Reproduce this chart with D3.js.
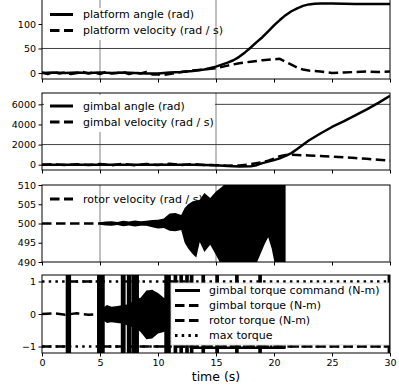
<!DOCTYPE html>
<html><head><meta charset="utf-8">
<script src="https://cdn.jsdelivr.net/npm/d3@7"></script>
<style>
body{margin:0;background:#fff}
svg{display:block}
text{font-family:"DejaVu Sans",sans-serif;fill:#000}
</style>
</head><body>
<svg id="c" width="399" height="389"></svg>
<script>
// ---------------- data ----------------
const timeTicks = [0, 5, 10, 15, 20, 25, 30];
const platTicks = [0, 50, 100];
const gimbalTicks = [0, 2000, 4000, 6000];
const rotorTicks = [490, 495, 500, 505, 510];
const torqueTicks = [-1, 0, 1];

// panel 1: platform
const platAngleT = [0,1,2,3,4,5,6,7,8,9,10,11,12,13,14,15,16,16.5,17,17.5,18,18.5,19,19.5,20,20.5,21,21.5,22,22.5,23,23.5,24,25,26,27,28,29,30];
const platAngle  = [0,1,0,1,0,1,0,1,0,-1,-1,1,2,4,7,13,21,26,33,42,52,63,73,85,97,108,118,126,132,137,140,141.5,142,142,141.5,141,141,141,141];
const platVelT = [0,0.5,1,1.5,2,2.5,3,3.5,4,4.5,5,5.5,6,6.5,7,7.5,8,8.5,9,9.5,10,10.5,11,12,13,14,15,16,17,18,19,20,20.5,21,21.5,22,22.5,23,24,25,26,27,28,29,30];
const platVel  = [1,-2,2,-1,1,-2,0,2,-1,1,-2,2,-1,0,2,-2,1,-1,2,-3,-3,-4,-2,2,5,7,9.5,15,20,23,26,28,29,23,17,11,7,5,3,0,1,2,3,2,3];

// panel 2: gimbal
const gimbalAngleT = [0,2,4,6,8,10,12,13,14,15,16,17,18,18.5,19,19.5,20,20.5,21,21.5,22,23,24,25,26,27,28,29,30];
const gimbalAngle  = [0,0,0,0,0,0,0,-20,-40,-60,-120,-180,-150,-50,150,300,450,630,870,1150,1550,2400,3100,3750,4300,4900,5500,6150,6840];
const gimbalVelT = [0,1,2,3,4,5,6,7,8,9,10,11,12,13,14,15,16,17,18,19,19.5,20,20.5,21,21.5,22,23,24,25,26,27,28,29,30];
const gimbalVel  = [0,40,-30,50,-40,60,-50,80,-60,70,-40,90,-30,60,-30,-60,-100,-80,50,250,400,600,850,960,980,960,920,870,810,740,660,580,490,400];

// panel 3: rotor velocity
const rotorVelT = [0,1,2,3,4,5,6,7,8,9,10,11];
const rotorVel  = [500,500,500,500,500,500,500.1,499.9,500.1,499.9,500,500];
const rotorEnvT  = [5,5.5,6,6.5,7,7.5,8,8.5,9,9.5,10,10.5,11,11.5,12,12.3,12.6,13,13.3,13.6,14,14.5,15,15.5,16,17,18,18.4,18.8,19.2,19.5,19.8,20.1,20.5,21];
const rotorEnvHi = [500.3,500.5,500.6,500.4,500.7,500.5,500.8,500.6,500.7,500.9,501.0,501.3,502.6,502.7,502.2,504,505,505.8,506,506.2,507.9,506.6,508.3,509.5,511,511,511,511,511,511,511,511,511,511,511];
const rotorEnvLo = [499.7,499.5,499.4,499.6,499.3,499.5,499.2,499.4,499.4,499.0,498.7,498.8,498.1,498.0,498.3,495,493.5,492,491.2,495.2,492.6,494.5,491.8,489,489,489,489,489,491.8,494.7,496.4,493.5,489,489,489];

// panel 4: torques
const cmdBarStart = [2.15,4.85,6.9,7.42,7.86,8.2,10.65,11.45,11.95,12.45,12.85,13.85,15.05,16.75,18.75,29.9];
const cmdBarEnd   = [2.4,5.3,7.1,7.62,8.05,8.25,11.0,11.55,12.05,12.55,12.95,13.95,15.15,16.85,18.85,30];
const cmdPeak = 3;
const cmdHoldT = [12.9, 21];
const cmdHold  = [-1.04, -1.04];
const gtStart = [0, 2.3, 5.1, 7.0, 7.55, 8.0, 8.4, 10.85, 11.5];
const gtEnd   = [2.3, 5.1, 7.0, 7.55, 8.0, 8.4, 10.85, 11.5, 30];
const gtValue = [-1, 1, -1, 1, -1, 1, -1, 1, -1];
const rotorTorqueT = [0,1,2,3,4,5,6,7,8,9,10,11,11.5];
const rotorTorque  = [0,0.02,-0.02,0.02,-0.02,0,0,0,0,0,0,0,0];
const rtEnvT  = [5,5.3,5.6,6,6.5,7,7.5,8,8.5,9,9.5,10,10.5,11,11.5];
const rtEnvHi = [0.05,0.2,0.28,0.22,0.25,0.28,0.3,0.45,0.5,0.72,0.75,0.65,0.5,0.45,0.45];
const rtEnvLo = [-0.05,-0.2,-0.28,-0.25,-0.28,-0.3,-0.38,-0.42,-0.55,-0.78,-0.75,-0.6,-0.55,-0.45,-0.45];
const maxTorque = 1;

// ---------------- drawing ----------------
const svg = d3.select("#c");
const x = d3.scaleLinear().domain([0, 30]).range([42, 390]);
const LW = 2.5, DASH = "9.5,4.5", DOT = "2.5,4.2";
const tickFont = 9.5, legFont = 11;
const fmt = d3.format("d");

const panels = [
  {top: -1, bottom: 79, domain: [-12.3, 151], ticks: platTicks, hgrid: [50], vgrid: [5, 15]},
  {top: 93, bottom: 170, domain: [-530, 7130], ticks: gimbalTicks, hgrid: [2000, 6000], vgrid: [5, 15]},
  {top: 185, bottom: 262, domain: [490, 510], ticks: rotorTicks, hgrid: [], vgrid: [5, 15]},
  {top: 275, bottom: 353, domain: [-1.2, 1.2], ticks: torqueTicks, hgrid: [], vgrid: [5, 15]}
];

const defs = svg.append("defs");
panels.forEach((p, i) => {
  p.y = d3.scaleLinear().domain(p.domain).range([p.bottom, p.top]);
  p.g = svg.append("g");
  defs.append("clipPath").attr("id", "clip" + i).append("rect")
    .attr("x", x(0)).attr("y", p.top).attr("width", x(30) - x(0)).attr("height", p.bottom - p.top);
  const grid = p.g.append("g");
  p.vgrid.forEach(v => grid.append("line").attr("x1", x(v)).attr("x2", x(v))
    .attr("y1", p.top).attr("y2", p.bottom).attr("stroke", "#808080").attr("stroke-width", 1));
  p.hgrid.forEach(v => grid.append("line").attr("x1", x(0)).attr("x2", x(30))
    .attr("y1", p.y(v)).attr("y2", p.y(v)).attr("stroke", "#404040").attr("stroke-width", 1));
  p.data = p.g.append("g").attr("clip-path", `url(#clip${i})`);
});

function lineOf(p, T, V, dash, width) {
  const gen = d3.line().x(d => x(d[0])).y(d => p.y(d[1]));
  return p.data.append("path").datum(d3.zip(T, V)).attr("d", gen)
    .attr("fill", "none").attr("stroke", "#000").attr("stroke-width", width || LW)
    .attr("stroke-dasharray", dash || null).attr("stroke-linejoin", "round");
}
function areaOf(p, T, Hi, Lo) {
  const gen = d3.area().x(d => x(d[0])).y0(d => p.y(d[2])).y1(d => p.y(d[1]));
  return p.data.append("path").datum(d3.zip(T, Hi, Lo)).attr("d", gen).attr("fill", "#000");
}

// panel 1
lineOf(panels[0], platVelT, platVel, DASH);
lineOf(panels[0], platAngleT, platAngle);
// panel 2
lineOf(panels[1], gimbalVelT, gimbalVel, DASH);
lineOf(panels[1], gimbalAngleT, gimbalAngle);
// panel 3
lineOf(panels[2], rotorVelT, rotorVel, DASH);
areaOf(panels[2], rotorEnvT, rotorEnvHi, rotorEnvLo);
// panel 4
const P4 = panels[3];
[maxTorque, -maxTorque].forEach(v => lineOf(P4, [0, 30], [v, v], DOT));
gtStart.forEach((s, i) => lineOf(P4, [s, gtEnd[i]], [gtValue[i], gtValue[i]], DASH));
lineOf(P4, rotorTorqueT, rotorTorque, DASH);
areaOf(P4, rtEnvT, rtEnvHi, rtEnvLo);
cmdBarStart.forEach((s, i) => {
  P4.data.append("rect").attr("x", x(s) - LW / 2).attr("width", x(cmdBarEnd[i]) - x(s) + LW)
    .attr("y", P4.y(cmdPeak)).attr("height", P4.y(-cmdPeak) - P4.y(cmdPeak)).attr("fill", "#000");
});
lineOf(P4, cmdHoldT, cmdHold);

// legends
function legend(p, entries, box, hx0, hx1, tx, rowY) {
  const g = p.g.append("g");
  if (box) g.append("rect").attr("x", box[0]).attr("y", box[1]).attr("width", box[2] - box[0])
    .attr("height", box[3] - box[1]).attr("fill", "#fff").attr("stroke", box[4] || "none").attr("stroke-width", 0.8);
  entries.forEach((e, i) => {
    const yy = rowY[i];
    g.append("line").attr("x1", hx0).attr("x2", hx1).attr("y1", yy).attr("y2", yy)
      .attr("stroke", "#000").attr("stroke-width", 3).attr("stroke-dasharray", e[1]);
    g.append("text").attr("x", tx).attr("y", yy).attr("dy", "0.36em")
      .attr("font-size", legFont).text(e[0]);
  });
}
legend(panels[0], [["platform angle (rad)", null], ["platform velocity (rad / s)", DASH]],
  [44, 8, 214, 40], 50, 73, 83, [14.5, 30.5]);
legend(panels[1], [["gimbal angle (rad)", null], ["gimbal velocity (rad / s)", DASH]],
  [44, 95, 215, 132], 50, 73, 83, [106, 122]);
legend(panels[2], [["rotor velocity (rad / s)", DASH]], null, 50, 73, 83, [199]);
legend(panels[3], [["gimbal torque command (N-m)", null], ["gimbal torque (N-m)", DASH],
  ["rotor torque (N-m)", DASH], ["max torque", DOT]],
  [171, 283, 389, 345, "#d0d0d0"], 175, 200, 209, [290.5, 305.5, 320.5, 335.5]);

// frames and axes
panels.forEach((p, i) => {
  p.g.append("rect").attr("x", x(0)).attr("y", p.top).attr("width", x(30) - x(0))
    .attr("height", p.bottom - p.top).attr("fill", "none").attr("stroke", "#000").attr("stroke-width", 1);
  const ya = d3.axisLeft(p.y).tickValues(p.ticks).tickFormat(fmt).tickSize(3.5).tickPadding(2.5);
  const gy = p.g.append("g").attr("transform", `translate(${x(0)},0)`).call(ya);
  const xa = d3.axisBottom(x).tickValues(timeTicks).tickFormat(fmt).tickSize(3.5).tickPadding(2.5);
  if (i < 3) xa.tickFormat("");
  const gx = p.g.append("g").attr("transform", `translate(0,${p.bottom})`).call(xa);
  [gy, gx].forEach(a => {
    a.select(".domain").remove();
    a.attr("font-family", null).attr("font-size", null);
    a.selectAll("line").attr("stroke", "#000").attr("stroke-width", 1);
    a.selectAll("text").attr("font-size", tickFont).attr("fill", "#000");
  });
});

svg.append("text").attr("x", (x(0) + x(30)) / 2).attr("y", 381).attr("text-anchor", "middle")
  .attr("font-size", 12.5).text("time (s)");
</script>
</body></html>
